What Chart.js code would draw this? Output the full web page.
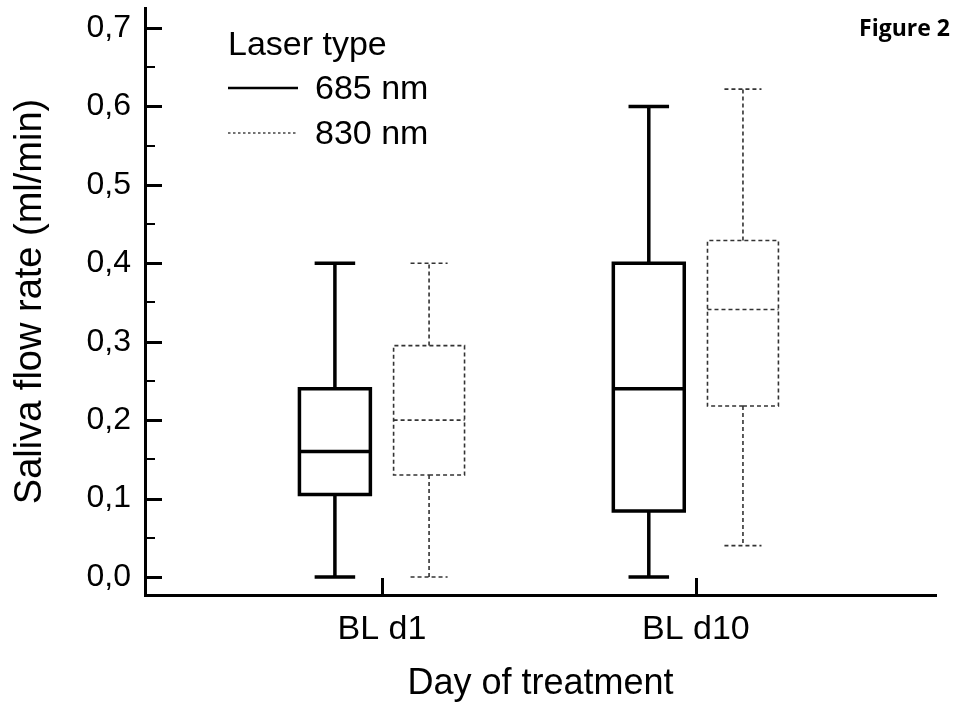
<!DOCTYPE html>
<html>
<head>
<meta charset="utf-8">
<script src="https://cdn.jsdelivr.net/npm/chart.js@4.4.1/dist/chart.umd.min.js"></script>
<style>
  html, body { margin: 0; padding: 0; background: #fff; }
  #wrap { width: 956px; height: 704px; position: relative; }
</style>
</head>
<body>
<div id="wrap"><canvas id="chartBox"></canvas></div>
<script>
// ---- dados ----
const categories = ['BL d1', 'BL d10'];
const seriesLabels = ['685 nm', '830 nm'];
const legendTitle = 'Laser type';
const yTickValues = [0, 0.1, 0.2, 0.3, 0.4, 0.5, 0.6, 0.7];
const yMinorValues = [0.05, 0.15, 0.25, 0.35, 0.45, 0.55, 0.65];

// 685 nm
const min685 = [0.00, 0.00];
const q1_685 = [0.105, 0.084];
const med685 = [0.16, 0.24];
const q3_685 = [0.24, 0.40];
const max685 = [0.40, 0.60];

// 830 nm
const min830 = [0.00, 0.04];
const q1_830 = [0.13, 0.218];
const med830 = [0.20, 0.341];
const q3_830 = [0.295, 0.429];
const max830 = [0.40, 0.622];

// ---- estilo ----
const FONT = "'Liberation Sans', Arial, sans-serif";
const SERIES_OFFSET = [-0.15, 0.15];
const BOX_HALF = 0.113;
const CAP_HALF = 0.059;

Chart.defaults.font.family = FONT;
Chart.defaults.color = '#000';

/**
 * Monta o contorno de um box plot como pontos {x,y} (com quebras null)
 */
function boxPath(cx, lo, q1, med, q3, hi) {
    const gap = () => ({ x: cx, y: null });
    return [
        { x: cx, y: q1 }, { x: cx + BOX_HALF, y: q1 }, { x: cx + BOX_HALF, y: q3 },
        { x: cx - BOX_HALF, y: q3 }, { x: cx - BOX_HALF, y: q1 }, { x: cx, y: q1 }, gap(),
        { x: cx - BOX_HALF, y: med }, { x: cx + BOX_HALF, y: med }, gap(),
        { x: cx, y: q3 }, { x: cx, y: hi }, gap(),
        { x: cx - CAP_HALF, y: hi }, { x: cx + CAP_HALF, y: hi }, gap(),
        { x: cx, y: q1 }, { x: cx, y: lo }, gap(),
        { x: cx - CAP_HALF, y: lo }, { x: cx + CAP_HALF, y: lo }, gap()
    ];
}

function buildSeries(s, lo, q1, med, q3, hi) {
    let pts = [];
    categories.forEach((c, i) => {
        pts = pts.concat(boxPath(i + SERIES_OFFSET[s], lo[i], q1[i], med[i], q3[i], hi[i]));
    });
    return pts;
}

// Ticks internos + legenda + "Figure 2"
const decorPlugin = {
    id: 'decor',
    afterDraw(chart) {
        const ctx = chart.ctx;
        const area = chart.chartArea;
        const y = chart.scales.y;
        const x = chart.scales.x;

        ctx.save();
        ctx.strokeStyle = '#000';
        ctx.lineCap = 'butt';

        // ticks do eixo Y (para dentro)
        ctx.lineWidth = 3;
        yTickValues.forEach(v => {
            const py = Math.round(y.getPixelForValue(v)) + 0.5;
            ctx.beginPath();
            ctx.moveTo(area.left, py);
            ctx.lineTo(area.left + 17, py);
            ctx.stroke();
        });
        ctx.lineWidth = 2;
        yMinorValues.forEach(v => {
            const py = Math.round(y.getPixelForValue(v));
            ctx.beginPath();
            ctx.moveTo(area.left, py);
            ctx.lineTo(area.left + 10, py);
            ctx.stroke();
        });

        // ticks do eixo X (para cima)
        ctx.lineWidth = 3;
        categories.forEach((c, i) => {
            const px = Math.round(x.getPixelForValue(i)) + 0.5;
            ctx.beginPath();
            ctx.moveTo(px, area.bottom);
            ctx.lineTo(px, area.bottom - 17);
            ctx.stroke();
        });

        // legenda
        ctx.fillStyle = '#000';
        ctx.textBaseline = 'alphabetic';
        ctx.textAlign = 'left';
        ctx.font = `34px ${FONT}`;
        ctx.fillText(legendTitle, 228, 55);
        chart.data.datasets.forEach((ds, i) => {
            const ly = 88 + i * 45;
            ctx.save();
            ctx.strokeStyle = i === 0 ? '#000' : '#444';
            ctx.lineWidth = i === 0 ? 2.5 : 1.3;
            ctx.setLineDash(i === 0 ? [] : [2.5, 2.5]);
            ctx.beginPath();
            ctx.moveTo(228, ly);
            ctx.lineTo(298, ly);
            ctx.stroke();
            ctx.restore();
            ctx.fillText(ds.label, 315, ly + 11);
        });

        // título da figura
        ctx.font = `bold 23px 'Open Sans', ${FONT}`;
        ctx.textAlign = 'right';
        ctx.fillText('Figure 2', 950, 36);
        ctx.restore();
    }
};

const ctx = document.getElementById('chartBox').getContext('2d');

new Chart(ctx, {
    type: 'scatter',
    data: {
        datasets: [
            {
                label: seriesLabels[0],
                data: buildSeries(0, min685, q1_685, med685, q3_685, max685),
                showLine: true,
                spanGaps: false,
                borderColor: '#000',
                borderWidth: 3.5,
                borderCapStyle: 'square',
                borderJoinStyle: 'miter',
                pointRadius: 0,
                pointHoverRadius: 0
            },
            {
                label: seriesLabels[1],
                data: buildSeries(1, min830, q1_830, med830, q3_830, max830),
                showLine: true,
                spanGaps: false,
                borderColor: '#333',
                borderWidth: 1.6,
                borderDash: [4, 3],
                borderCapStyle: 'butt',
                borderJoinStyle: 'miter',
                pointRadius: 0,
                pointHoverRadius: 0
            }
        ]
    },
    options: {
        responsive: true,
        maintainAspectRatio: false,
        animation: false,
        events: [],
        layout: { padding: { top: 8, right: 20, bottom: 0, left: 0 } },
        plugins: {
            legend: { display: false },
            tooltip: { enabled: false }
        },
        scales: {
            x: {
                type: 'linear',
                min: -0.755,
                max: 1.765,
                afterBuildTicks: scale => { scale.ticks = categories.map((c, i) => ({ value: i })); },
                afterFit: scale => {
                    scale.height = 109;
                    scale.paddingLeft = 0;
                    scale.paddingRight = 0;
                },
                grid: { display: false, drawTicks: false },
                border: { display: true, color: '#000', width: 3 },
                ticks: {
                    autoSkip: false,
                    maxRotation: 0,
                    padding: 14,
                    font: { size: 34 },
                    callback: value => categories[value] ?? ''
                },
                title: {
                    display: true,
                    text: 'Day of treatment',
                    font: { size: 36, lineHeight: 1.1 },
                    padding: { top: 0, bottom: 0 }
                }
            },
            y: {
                type: 'linear',
                min: -0.023,
                max: 0.7255,
                afterBuildTicks: scale => { scale.ticks = yTickValues.map(v => ({ value: v })); },
                afterFit: scale => {
                    scale.width = 145;
                    scale.paddingTop = 0;
                    scale.paddingBottom = 0;
                },
                grid: { display: false, drawTicks: false },
                border: { display: true, color: '#000', width: 3 },
                ticks: {
                    padding: 14,
                    font: { size: 32 },
                    callback: value => value.toFixed(1).replace('.', ',')
                },
                title: {
                    display: true,
                    text: 'Saliva flow rate (ml/min)',
                    font: { size: 38, lineHeight: 1.6 },
                    padding: { top: 0, bottom: 0 }
                }
            }
        }
    },
    plugins: [decorPlugin]
});
</script>
</body>
</html>
